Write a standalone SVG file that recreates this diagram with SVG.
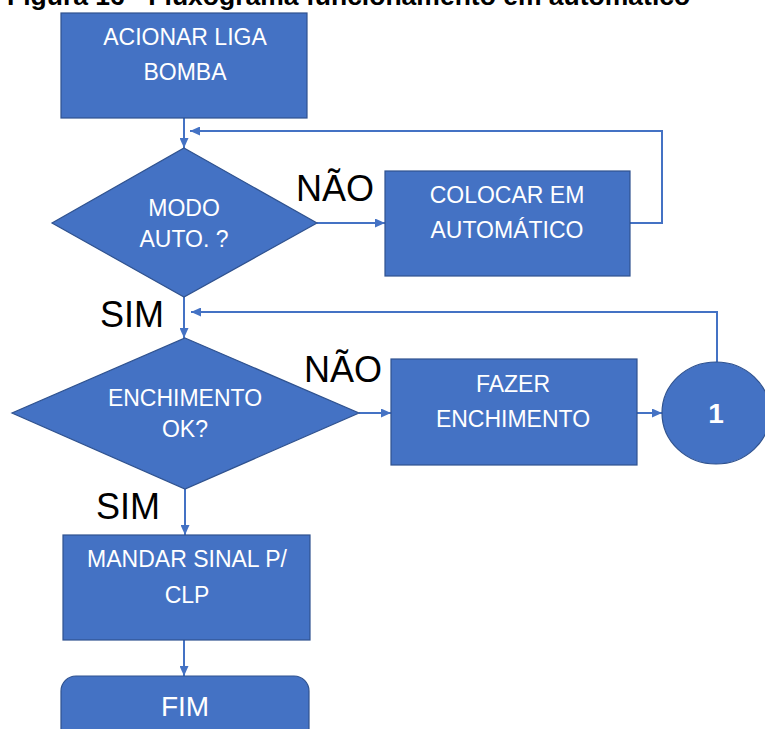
<svg xmlns="http://www.w3.org/2000/svg" width="765" height="729" viewBox="0 0 765 729">
<defs>
<marker id="ah" markerUnits="userSpaceOnUse" markerWidth="10" markerHeight="9" refX="10" refY="4.5" orient="auto">
<path d="M0,0 L10,4.5 L0,9 z" fill="#4472C4"/>
</marker>
<style>
.shape{fill:#4472C4;stroke:#2F528F;stroke-width:1.2}
.t{font-family:"Liberation Sans",Arial,sans-serif;font-size:23px;fill:#FFFFFF;text-anchor:middle}
.lbl{font-family:"Liberation Sans",Arial,sans-serif;font-size:36px;fill:#000000}
.c{fill:none;stroke:#4472C4;stroke-width:2;marker-end:url(#ah)}
.title{font-family:"Liberation Sans",Arial,sans-serif;font-size:26.5px;font-weight:bold;fill:#000000}
</style>
</defs>
<rect width="765" height="729" fill="#FFFFFF"/>
<text class="title" x="7" y="5">Figura 16 - Fluxograma funcionamento em automático</text>

<g id="connectors">
<path class="c" d="M184,118 L184,148"/>
<path class="c" d="M317,223 L385,223"/>
<path class="c" d="M630,223 L662,223 L662,131 L190,131"/>
<path class="c" d="M184,297 L184,338"/>
<path class="c" d="M717,362 L717,312 L191,312"/>
<path class="c" d="M359,413 L391,413"/>
<path class="c" d="M637,413 L662,413"/>
<path class="c" d="M185,489 L185,535"/>
<path class="c" d="M184,640 L184,676"/>
</g>

<g id="labels">
<text class="lbl" x="296" y="201">NÃO</text>
<text class="lbl" x="100" y="327">SIM</text>
<text class="lbl" x="304" y="382">NÃO</text>
<text class="lbl" x="96" y="519">SIM</text>
</g>

<g id="acionar">
<rect class="shape" x="61" y="13" width="246" height="105"/>
<text class="t" x="185" y="45">ACIONAR LIGA</text>
<text class="t" x="185" y="80">BOMBA</text>
</g>

<g id="modo">
<polygon class="shape" points="184,148 317,223 184,297 52,223"/>
<text class="t" x="184" y="216">MODO</text>
<text class="t" x="184" y="247">AUTO. ?</text>
</g>

<g id="colocar">
<rect class="shape" x="385" y="171" width="245" height="105"/>
<text class="t" x="507" y="203">COLOCAR EM</text>
<text class="t" x="507" y="238">AUTOMÁTICO</text>
</g>

<g id="enchimento">
<polygon class="shape" points="185,338 359,413 185,489 12,413"/>
<text class="t" x="185" y="406">ENCHIMENTO</text>
<text class="t" x="185" y="437">OK?</text>
</g>

<g id="fazer">
<rect class="shape" x="391" y="359" width="246" height="106"/>
<text class="t" x="513" y="392">FAZER</text>
<text class="t" x="513" y="427">ENCHIMENTO</text>
</g>

<g id="conector1">
<ellipse class="shape" cx="716" cy="413" rx="54" ry="51"/>
<text class="t" x="716" y="423" style="font-size:28px;font-weight:bold">1</text>
</g>

<g id="mandar">
<rect class="shape" x="63" y="535" width="247" height="105"/>
<text class="t" x="187" y="567">MANDAR SINAL P/</text>
<text class="t" x="187" y="603">CLP</text>
</g>

<g id="fim">
<rect class="shape" x="61" y="676" width="248" height="80" rx="15" ry="15"/>
<text class="t" x="185" y="716" style="font-size:28px">FIM</text>
</g>
</svg>
